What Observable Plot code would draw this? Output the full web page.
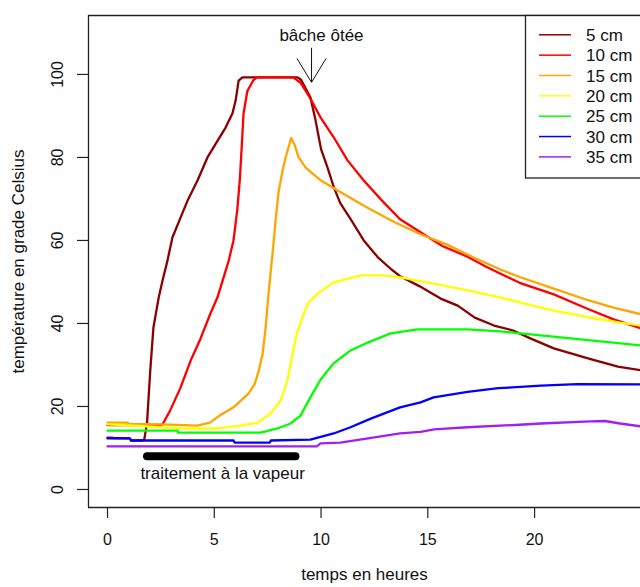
<!DOCTYPE html>
<html><head><meta charset="utf-8">
<script src="https://cdn.jsdelivr.net/npm/d3@7"></script>
<script src="https://cdn.jsdelivr.net/npm/@observablehq/plot@0.6"></script>
<style>
body{margin:0;background:#fff;}
#chart{position:relative;width:640px;height:587px;overflow:hidden;}
</style></head><body><div id="chart"></div>
<script>
// ---- data ----
const seriesNames = ["5 cm","10 cm","15 cm","20 cm","25 cm","30 cm","35 cm"];
const seriesColors = ["#8B0000","#FF0000","#FFA500","#FFFF00","#00FF00","#0000FF","#A020F0"];

const t5  = [0,0.3,1.05,1.1,1.6,1.72,1.85,2.0,2.15,2.4,2.58,2.81,3.04,3.42,3.75,4.22,4.68,5.15,5.53,5.85,6.0,6.14,6.32,8.9,9.05,9.5,9.74,10.0,10.3,10.6,10.9,11.4,12.0,12.65,13.3,13.7,14.6,15.6,16.4,17.2,18.1,19.0,19.8,20.9,22.5,23.9,25.0];
const v5  = [12.5,12.4,12.3,11.8,11.8,12.0,16,28.5,39,46.3,50.4,55.2,60.7,65.5,69.6,74.5,80,84,87.2,90.6,93.7,98.5,99.3,99.3,98.8,94.5,89,82,77.6,72.8,69,65,60,56,53,51.4,49,46,44.3,41.4,39.5,38.3,36.4,34,31.6,29.6,28.7];

const t10 = [0,2.5,2.6,2.93,3.4,3.89,4.36,4.82,5.15,5.43,5.67,5.9,6.08,6.2,6.3,6.37,6.55,6.83,7.0,8.7,9.04,9.5,9.98,10.6,11.24,11.99,12.8,13.7,14.66,15.7,16.86,17.8,19.3,20.9,22.5,23.7,25.0];
const v10 = [15.5,15.5,15.9,19,24.3,31,36.4,42.4,46.3,51,55,60,67.5,74.9,83.9,90.6,96,98.6,99.3,99.3,98,94.2,89.6,84.8,79.3,74.5,69.9,65.1,62,58.6,56.1,53.5,49.8,47,43.5,41,38.8];

const t15 = [0,0.94,1.0,2.6,4.2,4.8,5.25,5.9,6.6,6.9,7.07,7.26,7.4,7.54,7.73,7.87,8.0,8.2,8.34,8.6,8.75,8.95,9.27,9.51,9.98,10.6,11.2,12.2,13.4,14.66,15.9,17.1,18.4,19.3,20.9,22.5,23.7,25.0];
const v15 = [16.1,16.1,15.8,15.7,15.4,16.1,17.8,19.8,23.1,25.5,28.4,32.5,38.8,47.2,56.9,64.8,71.3,76.9,80,84.7,83.2,80,77.6,76.5,74.5,72.6,70.8,67.8,64.5,61.5,59,56,53,51.2,48.4,45.6,43.8,42.2];

const t20 = [0,1.22,3.56,5.15,6.23,7.03,7.63,8.1,8.43,8.67,8.9,9.04,9.2,9.37,9.5,9.84,10.59,11.85,12.93,13.72,15.27,16.86,18.4,19.3,20.9,22.5,24.0,25.0];
const v20 = [15.7,15.4,14.7,14.7,15.4,16.1,18.3,21.4,26.3,32.8,38.3,40,42.5,44.5,45.5,47.2,49.9,51.6,51.6,51.1,49.6,48,46.3,45.1,43.1,41.5,40.2,39.5];

const t25 = [0,3.28,3.3,7.17,7.96,8.57,9.04,9.5,9.98,10.59,11.38,12.18,13.26,14.52,16.86,18.4,19.34,21.7,24.03,25.0];
const v25 = [14.2,14.2,13.7,13.7,14.7,15.9,17.8,22.2,26.5,30.4,33.5,35.4,37.6,38.6,38.6,38.1,37.6,36.4,35.2,34.7];

const t30 = [0,1.05,1.1,5.9,5.95,7.6,7.65,9.5,10.59,11.38,12.3,13.7,14.66,15.27,16.86,18.3,20.3,22.0,25.0];
const v30 = [12.3,12.3,11.8,11.8,11.3,11.3,11.8,12.0,13.5,15,17,19.8,21,22.2,23.5,24.4,25.0,25.4,25.3];

const t35 = [0,9.8,9.98,10.9,12.2,13.7,14.66,15.3,16.86,19.3,20.3,22.6,23.3,24.0,25.0];
const v35 = [10.4,10.4,11.1,11.3,12.3,13.5,13.9,14.5,15,15.6,15.9,16.4,16.5,15.9,15.2];

const seriesTimes  = [t5,t10,t15,t20,t25,t30,t35];
const seriesValues = [v5,v10,v15,v20,v25,v30,v35];

const xTicks = [0,5,10,15,20];
const yTicks = [0,20,40,60,80,100];
const xDomain = [-0.89, 24.96];
const yDomain = [-4.34, 114.2];

const treatT = [1.85, 8.8];
const treatV = [8, 8];
const treatLabel = ["traitement à la vapeur"];
const treatLabelT = [5.39];
const treatLabelV = [3.9];

const coverLabel = ["bâche ôtée"];
const coverLabelT = [10.02];
const coverLabelV = [109.4];
const arrowT = [9.555];
const arrowV1 = [106.3];
const arrowV2 = [98.1];

const xLabel = "temps en heures";
const yLabel = "température en grade Celsius";

// ---- build ----
const data = seriesNames.flatMap((name, i) =>
  seriesTimes[i].map((t, j) => ({series: name, t, v: seriesValues[i][j]})));
const treat = treatT.map((t, i) => ({t, v: treatV[i]}));

const arrowHead = {
  draw(ctx, size) {
    const R = Math.sqrt(size / Math.PI);
    ctx.moveTo(-0.54 * R, -0.885 * R);
    ctx.lineTo(0, 0);
    ctx.lineTo(0.54 * R, -0.885 * R);
  }
};

const font = "'Liberation Sans', Arial, Helvetica, sans-serif";
const wordSize = 17;

const chart = Plot.plot({
  width: 640, height: 587,
  marginLeft: 88, marginRight: 0, marginTop: 15, marginBottom: 80,
  style: {fontFamily: font, fontSize: "16px", color: "#111", background: "#fff"},
  x: {domain: xDomain, axis: null},
  y: {domain: yDomain, axis: null},
  color: {domain: seriesNames, range: seriesColors},
  marks: [
    Plot.line(data, {x: "t", y: "v", z: "series", stroke: "series", strokeWidth: 2.3, clip: true}),
    Plot.line(treat, {x: "t", y: "v", stroke: "#000", strokeWidth: 8, strokeLinecap: "round"}),
    Plot.text(treatLabel, {x: (d, i) => treatLabelT[i], y: (d, i) => treatLabelV[i], text: d => d, fontSize: wordSize}),
    Plot.text(coverLabel, {x: (d, i) => coverLabelT[i], y: (d, i) => coverLabelV[i], text: d => d, fontSize: wordSize}),
    Plot.ruleX(arrowT, {x: d => d, y1: (d, i) => arrowV1[i], y2: (d, i) => arrowV2[i], stroke: "#111", strokeWidth: 1}),
    Plot.dot(arrowT, {x: d => d, y: (d, i) => arrowV2[i], symbol: arrowHead, r: 27, fill: "none", stroke: "#111", strokeWidth: 1}),
    Plot.axisX({ticks: xTicks, tickSize: 11, tickPadding: 15, tickFormat: d => String(d), label: null, stroke: "#222", strokeWidth: 1.2, fontSize: 16}),
    Plot.axisY({ticks: yTicks, tickSize: 11, tickFormat: () => "", label: null, stroke: "#222", strokeWidth: 1.2}),
    Plot.text(yTicks, {y: d => d, frameAnchor: "left", dx: -31, rotate: -90, textAnchor: "middle", text: d => String(d), fontSize: 16}),
    Plot.text([xLabel], {frameAnchor: "bottom", dy: 72, textAnchor: "middle", text: d => d, fontSize: wordSize}),
    Plot.text([yLabel], {frameAnchor: "left", dx: -70, rotate: -90, textAnchor: "middle", text: d => d, fontSize: wordSize}),
    Plot.ruleY([yDomain[1]], {stroke: "#222", strokeWidth: 1.3}),
    Plot.ruleY([yDomain[0]], {stroke: "#222", strokeWidth: 1.3}),
    Plot.ruleX([xDomain[0]], {stroke: "#222", strokeWidth: 1.3})
  ]
});

// legend (drawn into the same svg)
const svg = d3.select(chart);
const lg = svg.append("g").attr("font-family", font).attr("font-size", wordSize).attr("text-anchor", "start");
lg.append("rect").attr("x", 525.5).attr("y", 15.5).attr("width", 140).attr("height", 162.5)
  .attr("fill", "#fff").attr("stroke", "#222").attr("stroke-width", 1.3);
seriesNames.forEach((name, i) => {
  const y = 34.8 + i * 20.35;
  lg.append("line").attr("x1", 539).attr("x2", 571).attr("y1", y).attr("y2", y)
    .attr("stroke", seriesColors[i]).attr("stroke-width", 1.5);
  lg.append("text").attr("x", 586).attr("y", y).attr("dy", "0.36em").attr("text-anchor", "start")
    .attr("fill", "#111").text(name);
});

document.getElementById("chart").appendChild(chart);
</script>
</body></html>
